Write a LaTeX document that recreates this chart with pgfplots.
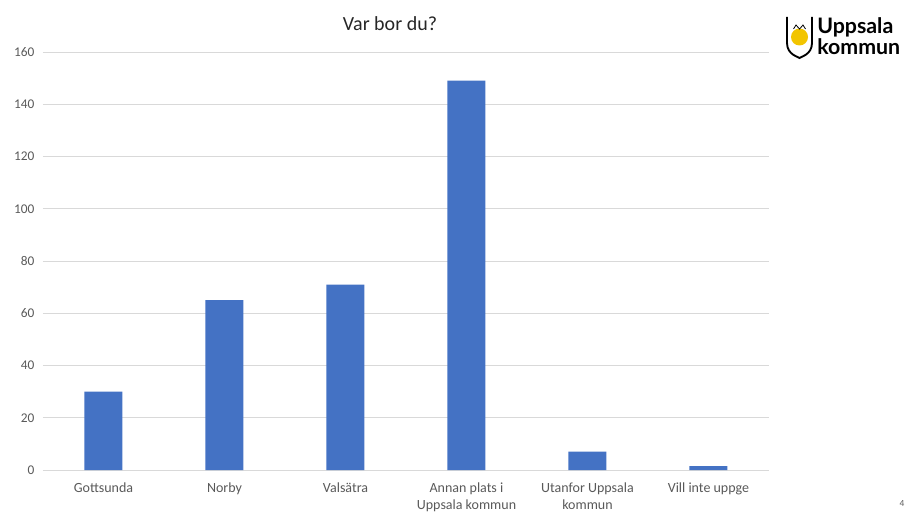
\documentclass[border=0pt]{standalone}
\usepackage{pgfplots}
\pgfplotsset{compat=1.18}
\usepackage{fontspec}
\setmainfont{Carlito}
\newfontfamily\logofont{Lato}
\definecolor{barblue}{HTML}{4472C4}
\definecolor{txtgray}{HTML}{595959}
\definecolor{gridgray}{HTML}{D9D9D9}
\definecolor{logoyellow}{HTML}{F2C500}

\begin{document}
\begin{tikzpicture}[x=0.75pt, y=0.75pt]
  \useasboundingbox (0,0) rectangle (907,511);
  \begin{axis}[
      at={(32.25pt,30.75pt)}, anchor=south west,
      scale only axis,
      width=544.5pt, height=313.5pt,
      xmin=-0.5, xmax=5.5,
      ymin=0, ymax=160,
      ytick={0,20,...,160},
      xtick={0,...,5},
      xticklabels={Gottsunda, Norby, Valsätra, Annan plats i\\Uppsala kommun, Utanfor Uppsala\\kommun, Vill inte uppge},
      x tick label style={align=center, font=\fontsize{10.5}{12.5}\selectfont, text=txtgray, yshift=-6pt},
      y tick label style={font=\fontsize{10}{12}\selectfont, text=txtgray, xshift=-3pt},
      /pgf/number format/assume math mode=true,
      axis line style={draw=none},
      major tick length=0pt,
      ymajorgrids,
      grid style={gridgray, line width=0.6pt},
      clip=false,
    ]
    \addplot[ybar, bar width=28.5pt, fill=barblue, draw=none] coordinates {
      (0,30) (1,65) (2,71) (3,149) (4,7) (5,1.5)
    };
  \end{axis}
  % title
  \node[font=\fontsize{15}{18}\selectfont, text=black!85] at (390,487) {Var bor du?};
  % logo
  \draw[line width=1.4pt, black] (787,494) -- (787,468) .. controls (787,456) and (799,454) .. (799.5,453)
        .. controls (800,454) and (812,456) .. (812,468) -- (812,494);
  \fill[logoyellow] (799.5,474) circle (8.5);
  \draw[black, line width=0.6pt] (793.5,482) -- (796,486) -- (799.5,482) -- (803,486) -- (805.5,482);
  \node[anchor=west, font=\fontsize{16}{14}\selectfont\logofont\bfseries, align=left, inner sep=0pt]
    at (817,475) {Uppsala\\kommun};
  % page number
  \node[font=\fontsize{7}{8}\selectfont, text=txtgray] at (902,7) {4};
\end{tikzpicture}
\end{document}
